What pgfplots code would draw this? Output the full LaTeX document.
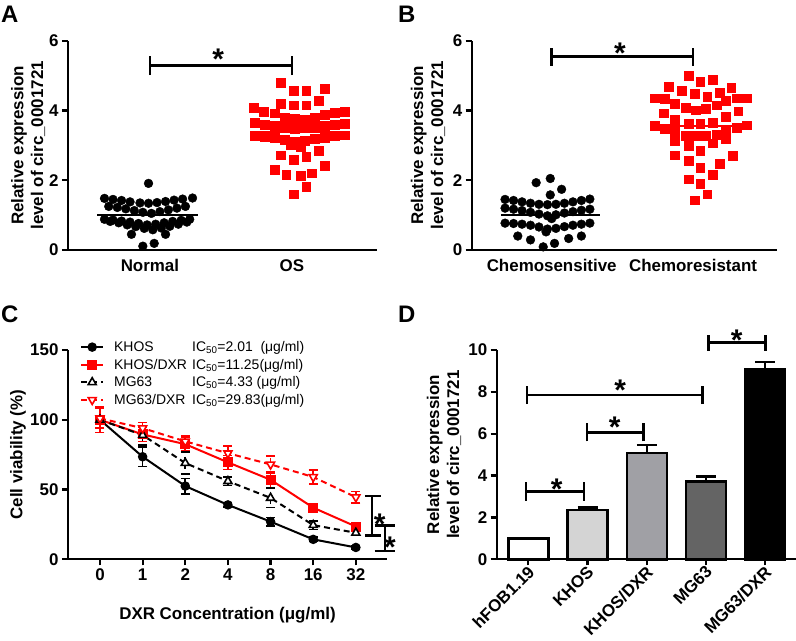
\documentclass[border=0pt]{standalone}
\usepackage{pgfplots}
\pgfplotsset{compat=1.18}
\usepackage{fontspec}
\setmainfont{Liberation Sans}

\definecolor{barB}{RGB}{212,212,212}
\definecolor{barC}{RGB}{160,160,165}
\definecolor{barD}{RGB}{100,100,100}

\newcommand{\lab}{\bfseries\fontsize{17}{20}\selectfont}

\pgfplotsset{
  gpad/.style={
    scale only axis,
    anchor=south west,
    height=209.3bp,
    ymin=0,
    axis x line=bottom,
    axis y line=left,
    axis line style={line width=2.2bp,-},
    tick align=outside,
    major tick length=6bp,
    tick style={line width=2.2bp,black},
    tick label style={font=\lab},
    /pgf/number format/assume math mode=true,
    ylabel style={font=\lab,align=center,anchor=center},
    xlabel style={font=\lab},
    clip=false,
  },
  dbar/.style={ybar, bar width=40bp, bar shift=0pt, draw=black, line width=2.4bp},
}
\tikzset{
  sig/.style={font=\bfseries\fontsize{30}{30}\selectfont,anchor=base,yshift=-17.4bp,inner sep=0pt},
  brk/.style={line width=2.6bp},
}

\begin{document}
\begin{tikzpicture}
\useasboundingbox (0,0) rectangle (796bp,-641bp);

% panel letters
\node[anchor=base west,inner sep=0pt,font=\bfseries\fontsize{24}{24}\selectfont] at (1bp,-22bp) {A};
\node[anchor=base west,inner sep=0pt,font=\bfseries\fontsize{24}{24}\selectfont] at (398bp,-22bp) {B};
\node[anchor=base west,inner sep=0pt,font=\bfseries\fontsize{24}{24}\selectfont] at (1bp,-322bp) {C};
\node[anchor=base west,inner sep=0pt,font=\bfseries\fontsize{24}{24}\selectfont] at (398bp,-322bp) {D};

% ---------- A ----------
\begin{axis}[gpad,
  at={(68bp,-250bp)}, width=309bp,
  xmin=0.423, xmax=2.599, ymax=6,
  ytick={0,2,4,6},
  xtick={1,2}, xticklabels={Normal,OS},
  x tick style={draw=none},
  ylabel={Relative expression\\level of circ\_0001721},
  ylabel style={at={(axis description cs:-0.129,0.5)}},
]
\addplot[only marks, mark=*, mark size=4.4bp, black] coordinates {
 (0.99,1.91)
 (0.68,1.48)(0.74,1.45)(0.80,1.42)(0.86,1.38)(0.93,1.35)(0.99,1.34)(1.05,1.36)(1.11,1.39)(1.17,1.43)(1.23,1.46)(1.30,1.49)
 (0.71,1.25)(0.77,1.22)(0.83,1.18)(0.89,1.13)(0.95,1.08)(1.01,1.05)(1.07,1.10)(1.13,1.15)(1.19,1.20)(1.25,1.25)
 (0.68,0.88)(0.74,0.86)(0.80,0.83)(0.86,0.80)(0.92,0.76)(0.98,0.72)(1.04,0.74)(1.10,0.78)(1.16,0.82)(1.22,0.85)(1.28,0.88)
 (0.72,0.82)(0.78,0.78)(0.84,0.72)(0.90,0.67)(0.96,0.62)(1.02,0.58)(1.08,0.63)(1.14,0.68)(1.20,0.74)(1.26,0.80)
 (0.87,0.45)(1.11,0.45)(0.95,0.11)(1.03,0.19)
};
\addplot[black, line width=2.4bp] coordinates {(0.63,1.0) (1.34,1.0)};
\addplot[only marks, mark=square*, mark size=4.4bp, red] coordinates {
 (1.92,4.79)(2.01,4.57)(2.10,4.57)(2.23,4.63)(1.92,4.20)(2.01,4.15)(2.10,4.15)(2.19,4.28)
 (1.73,4.09)(1.80,3.96)(1.88,3.92)(1.95,3.80)(2.02,3.77)(2.09,3.75)(2.16,3.79)(2.23,3.87)(2.30,3.93)(2.37,3.97)
 (1.74,3.65)(1.81,3.60)(1.88,3.56)(1.95,3.52)(2.02,3.48)(2.09,3.49)(2.16,3.53)(2.23,3.57)(2.30,3.60)(2.37,3.63)
 (1.74,3.28)(1.81,3.25)(1.88,3.21)(1.95,3.16)(2.02,3.10)(2.09,3.13)(2.16,3.18)(2.23,3.22)(2.30,3.26)(2.37,3.29)
 (1.99,3.02)(2.06,2.95)(1.92,2.72)(2.01,2.58)(2.10,2.68)(2.19,2.84)(1.88,2.31)(1.96,2.15)(2.06,2.12)(2.14,2.20)(2.23,2.42)(2.10,1.81)(2.01,1.60)
};
\addplot[red, line width=2.4bp] coordinates {(1.72,3.39) (2.41,3.39)};
\draw[brk] (axis cs:1,5.29) -- (axis cs:2,5.29);
\draw[brk] (axis cs:1,5.01) -- (axis cs:1,5.56);
\draw[brk] (axis cs:2,5.01) -- (axis cs:2,5.56);
\node[sig] at (axis cs:1.48,5.68) {*};
\end{axis}

% ---------- B ----------
\begin{axis}[gpad,
  at={(471.7bp,-250bp)}, width=305.3bp,
  xmin=0.434, xmax=2.594, ymax=6,
  ytick={0,2,4,6},
  xtick={1,2}, xticklabels={Chemosensitive,Chemoresistant},
  x tick style={draw=none},
  ylabel={Relative expression\\level of circ\_0001721},
  ylabel style={at={(axis description cs:-0.143,0.5)}},
]
\addplot[only marks, mark=*, mark size=4.4bp, black] coordinates {
 (0.99,2.05)(0.89,1.93)(1.07,1.74)(0.99,1.58)
 (0.67,1.45)(0.73,1.42)(0.79,1.38)(0.85,1.34)(0.91,1.31)(0.97,1.30)(1.03,1.31)(1.09,1.34)(1.15,1.38)(1.21,1.42)(1.27,1.46)
 (0.67,1.20)(0.73,1.17)(0.79,1.13)(0.85,1.08)(0.91,1.03)(0.97,0.98)(1.03,1.01)(1.09,1.06)(1.15,1.10)(1.21,1.14)(1.27,1.17)
 (0.67,0.77)(0.73,0.76)(0.79,0.74)(0.85,0.71)(0.91,0.66)(0.97,0.60)(1.03,0.62)(1.09,0.67)(1.15,0.71)(1.21,0.74)(1.27,0.77)
 (0.96,0.52)(1.00,0.90)
 (0.76,0.40)(0.85,0.29)(0.94,0.09)(1.02,0.19)(1.12,0.33)(1.21,0.40)
};
\addplot[black, line width=2.4bp] coordinates {(0.64,1.0) (1.34,1.0)};
\addplot[only marks, mark=square*, mark size=4.4bp, red] coordinates {
 (1.97,4.99)(2.05,4.82)(2.14,4.89)(1.83,4.68)(1.92,4.56)(2.01,4.49)(2.19,4.52)(2.27,4.65)
 (1.73,4.35)(1.80,4.33)(1.87,4.20)(2.10,4.39)(2.17,4.15)(2.23,4.27)(2.31,4.35)(2.38,4.35)
 (1.79,3.92)(1.95,4.08)(2.02,4.01)(2.09,4.04)(2.32,3.98)(2.23,3.82)
 (1.73,3.56)(2.38,3.58)(1.87,3.74)(1.97,3.63)(2.05,3.62)(2.14,3.65)(1.80,3.47)(2.31,3.50)
 (1.87,3.39)(1.95,3.27)(2.02,3.27)(2.09,3.27)(2.17,3.30)(2.23,3.44)
 (1.87,3.12)(1.97,2.98)(2.14,3.06)(2.23,3.19)
 (2.05,2.84)(1.87,2.72)(1.97,2.55)(2.28,2.70)(2.19,2.48)(2.05,2.36)(2.14,2.17)(1.97,2.03)(2.05,1.89)(2.10,1.60)(2.01,1.43)
};
\addplot[red, line width=2.4bp] coordinates {(1.72,3.55) (2.40,3.55)};
\draw[brk] (axis cs:1,5.54) -- (axis cs:2,5.54);
\draw[brk] (axis cs:1,5.28) -- (axis cs:1,5.80);
\draw[brk] (axis cs:2,5.28) -- (axis cs:2,5.80);
\node[sig] at (axis cs:1.483,5.85) {*};
\end{axis}

% ---------- C ----------
\begin{axis}[gpad,
  at={(68bp,-559.3bp)}, width=319bp,
  xmin=-0.75, xmax=6.73, ymax=150,
  ytick={0,50,100,150},
  xtick={0,...,6}, xticklabels={0,1,2,4,8,16,32},
  xlabel={DXR Concentration (μg/ml)},
  xlabel style={at={(axis description cs:0.5,-0.268)},anchor=center},
  ylabel={Cell viability (\%)},
  ylabel style={at={(axis description cs:-0.157,0.5)}},
  legend style={at={(axis description cs:0.0376,1.052)}, anchor=north west,
    draw=none, fill=none, inner sep=0pt, row sep=2bp, column sep=8bp,
    font=\fontsize{14}{16}\selectfont},
  legend cell align=left,
  legend image code/.code={\draw[mark repeat=2,mark phase=2,#1] plot coordinates {(0bp,0bp) (11bp,0bp) (22bp,0bp)};},
  error bars/y dir=both, error bars/y explicit,
  error bars/error bar style={line width=1.6bp},
  error bars/error mark options={rotate=90, mark size=4.5bp, line width=1.6bp},
]
\addplot[black, line width=2bp, mark=*, mark size=3.7bp] coordinates {
 (0,100) +- (0,2) (1,73.5) +- (0,7) (2,52.5) +- (0,5.5) (3,39) +- (0,1.5)
 (4,27) +- (0,3) (5,14.3) +- (0,1.5) (6,8.5) +- (0,1)
};
\addlegendentry{\makebox[78bp][l]{KHOS}IC\textsubscript{50}=2.01\ \ (μg/ml)}
\addplot[red, line width=2bp, mark=square*, mark size=4bp] coordinates {
 (0,100) +- (0,9) (1,89.5) +- (0,5) (2,82.5) +- (0,5) (3,69.5) +- (0,5)
 (4,57) +- (0,6) (5,37) +- (0,3) (6,23.5) +- (0,2)
};
\addlegendentry{\makebox[78bp][l]{KHOS/DXR}IC\textsubscript{50}=11.25(μg/ml)}
\addplot[black, line width=2bp, dash pattern=on 6bp off 4bp, mark=triangle*, mark size=4.6bp,
  mark options={solid, fill=white, line width=1.6bp}] coordinates {
 (0,100) +- (0,3) (1,89) +- (0,7) (2,69) +- (0,8) (3,56) +- (0,3)
 (4,44) +- (0,7) (5,24.5) +- (0,3) (6,19) +- (0,2)
};
\addlegendentry{\makebox[78bp][l]{MG63}IC\textsubscript{50}=4.33 (μg/ml)}
\addplot[red, line width=2bp, dash pattern=on 6bp off 4bp, mark=triangle*, mark size=4.6bp,
  mark options={solid, rotate=180, fill=white, line width=1.6bp}] coordinates {
 (0,101) +- (0,7) (1,94) +- (0,4) (2,84.5) +- (0,4) (3,76) +- (0,5)
 (4,68) +- (0,6) (5,59) +- (0,5) (6,44.5) +- (0,4)
};
\addlegendentry{\makebox[78bp][l]{MG63/DXR}IC\textsubscript{50}=29.83(μg/ml)}
\draw[brk] (axis cs:6.38,45.3) -- (axis cs:6.38,16.9);
\draw[brk] (axis cs:6.21,45.3) -- (axis cs:6.60,45.3);
\draw[brk] (axis cs:6.21,16.9) -- (axis cs:6.60,16.9);
\draw[brk] (axis cs:6.68,24.1) -- (axis cs:6.68,6.0);
\draw[brk] (axis cs:6.44,24.1) -- (axis cs:6.91,24.1);
\draw[brk] (axis cs:6.44,6.0) -- (axis cs:6.91,6.0);
\node[sig] at (axis cs:6.56,30.5) {*};
\node[sig] at (axis cs:6.80,13.8) {*};
\end{axis}

% ---------- D ----------
\begin{axis}[gpad,
  at={(496.7bp,-559.3bp)}, width=299.3bp,
  xmin=-0.534, xmax=4.52, ymax=10,
  ytick={0,2,...,10},
  xtick={0,...,4}, xticklabels={hFOB1.19,KHOS,KHOS/DXR,MG63,MG63/DXR},
  x tick label style={rotate=45, anchor=north east, inner sep=0.5bp, yshift=2bp,
    font=\bfseries\fontsize{17}{20}\selectfont},
  ylabel={Relative expression\\level of circ\_0001721},
  ylabel style={at={(axis description cs:-0.176,0.5)}},
  error bars/y dir=plus, error bars/y explicit,
  error bars/error bar style={line width=2.4bp, black, solid},
  error bars/error mark options={rotate=90, mark size=10bp, line width=2.4bp, black},
]
\addplot[dbar, fill=white] coordinates {(0,1.0) +- (0,0)};
\addplot[dbar, fill=barB] coordinates {(1,2.36) +- (0,0.12)};
\addplot[dbar, fill=barC] coordinates {(2,5.09) +- (0,0.37)};
\addplot[dbar, fill=barD] coordinates {(3,3.71) +- (0,0.24)};
\addplot[dbar, fill=black] coordinates {(4,9.09) +- (0,0.35)};
\draw[brk] (axis cs:-0.04,3.23) -- (axis cs:0.94,3.23);
\draw[brk] (axis cs:-0.04,2.79) -- (axis cs:-0.04,3.67);
\draw[brk] (axis cs:0.94,2.79) -- (axis cs:0.94,3.67);
\draw[brk] (axis cs:0.99,6.07) -- (axis cs:1.94,6.07);
\draw[brk] (axis cs:0.99,5.64) -- (axis cs:0.99,6.50);
\draw[brk] (axis cs:1.94,5.64) -- (axis cs:1.94,6.50);
\draw[brk] (axis cs:-0.02,7.85) -- (axis cs:2.94,7.85);
\draw[brk] (axis cs:-0.02,7.42) -- (axis cs:-0.02,8.28);
\draw[brk] (axis cs:2.94,7.42) -- (axis cs:2.94,8.28);
\draw[brk] (axis cs:3.04,10.35) -- (axis cs:4.0,10.35);
\draw[brk] (axis cs:3.04,9.97) -- (axis cs:3.04,10.73);
\draw[brk] (axis cs:4.0,9.97) -- (axis cs:4.0,10.73);
\node[sig] at (axis cs:0.48,3.71) {*};
\node[sig] at (axis cs:1.46,6.66) {*};
\node[sig] at (axis cs:1.55,8.41) {*};
\node[sig] at (axis cs:3.52,10.80) {*};
\end{axis}
\end{tikzpicture}
\end{document}
